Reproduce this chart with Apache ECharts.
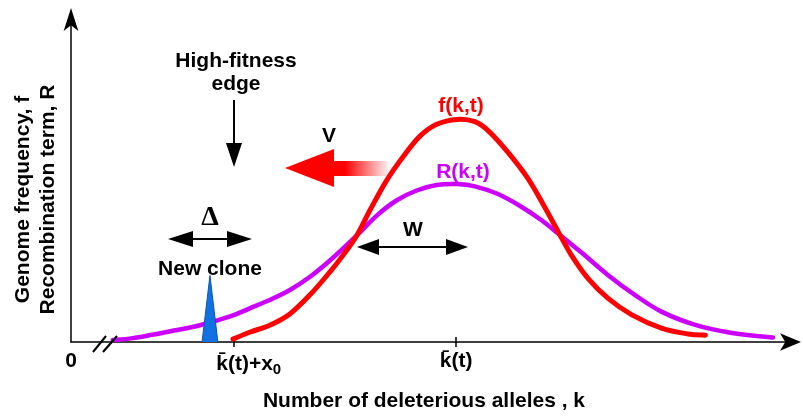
<!DOCTYPE html>
<html>
<head>
<meta charset="utf-8">
<script src="https://cdn.jsdelivr.net/npm/echarts@6/dist/echarts.min.js"></script>
<style>
html,body{margin:0;padding:0;background:#fff}
#chart{width:803px;height:417px}
</style>
</head>
<body>
<div id="chart"></div>
<script>
// f(k,t) - genome frequency, sampled off the figure
const fK = [22.5, 24.9, 27.6, 30.4, 33.2, 36.0, 37.8, 39.7, 41.5, 43.8, 46.2, 48.5, 50.8, 53.6, 56.1, 58.0, 60.7, 63.5, 65.8, 67.7, 69.5, 71.8, 74.6, 77.9, 82.0, 85.7, 88.1];
const fVal = [0.9, 3.1, 5.2, 8.7, 14.6, 21.8, 26.9, 33.0, 40.7, 49.9, 57.6, 63.8, 67.4, 68.9, 68.2, 65.3, 58.7, 50.5, 41.7, 34.0, 26.9, 19.7, 13.5, 8.4, 4.3, 2.5, 2.1];
// R(k,t) - recombination term
const rK = [5.8, 8.6, 13.3, 17.9, 22.1, 24.9, 27.6, 30.4, 33.2, 36.0, 39.7, 42.5, 45.2, 48.0, 50.8, 53.6, 56.1, 59.3, 62.6, 65.4, 67.7, 70.9, 74.6, 78.3, 82.0, 86.7, 91.8, 97.5];
const rVal = [0.6, 1.2, 3.1, 5.2, 7.9, 10.5, 13.0, 16.1, 20.2, 25.3, 33.0, 39.2, 43.8, 46.9, 48.6, 48.9, 48.2, 45.8, 41.8, 37.6, 33.5, 27.7, 20.7, 14.6, 9.4, 5.3, 2.8, 1.4];
// new clone spike
const cloneK = [18.2, 19.3, 20.4];
const cloneVal = [0, 20.6, 0];
// axis marks
const tickK = [22.6, 53.5];
const labelK = [0, 22.6, 53.5];
const labelText = ['{a|0}', '{sh|k\u0304(t)+x}{sub|0}', '{a|k\u0304(t)}'];

const FONT = '"Liberation Sans", Arial, sans-serif';

function pairs(xs, ys) {
    return xs.map(function (x, i) { return [x, ys[i]]; });
}

// catmull-rom through the projected points
function smoothPath(p) {
    let d = 'M' + p[0][0] + ' ' + p[0][1];
    const n = p.length;
    for (let i = 0; i < n - 1; i++) {
        const p0 = p[Math.max(i - 1, 0)], p1 = p[i], p2 = p[i + 1], p3 = p[Math.min(i + 2, n - 1)];
        const c1x = p1[0] + (p2[0] - p0[0]) / 6, c1y = p1[1] + (p2[1] - p0[1]) / 6;
        const c2x = p2[0] - (p3[0] - p1[0]) / 6, c2y = p2[1] - (p3[1] - p1[1]) / 6;
        d += ' C' + c1x + ' ' + c1y + ' ' + c2x + ' ' + c2y + ' ' + p2[0] + ' ' + p2[1];
    }
    return d;
}

function curveSeries(name, ks, vals, color, width) {
    return {
        name: name, type: 'custom', xAxisIndex: 0,
        data: [[ks[0], vals[0]]],
        clip: false,
        renderItem: function (params, api) {
            const pts = ks.map(function (k, i) { return api.coord([k, vals[i]]); });
            return {
                type: 'path',
                shape: { pathData: smoothPath(pts) },
                style: { stroke: color, lineWidth: width, fill: null, lineCap: 'round' }
            };
        }
    };
}

function txt(x, y, text, size, color, family, weight) {
    return {
        type: 'text', x: x, y: y, z: 10,
        style: {
            text: text, fill: color || '#000', fontSize: size,
            fontWeight: weight || 'bold', fontFamily: family || FONT,
            align: 'center', verticalAlign: 'middle'
        }
    };
}
function seg(x1, y1, x2, y2) {
    return { type: 'line', z: 10, shape: { x1: x1, y1: y1, x2: x2, y2: y2 }, style: { stroke: '#000', lineWidth: 2 } };
}
function head(pts, color) {
    return { type: 'polygon', z: 10, shape: { points: pts }, style: { fill: color || '#000' } };
}

let myChart = echarts.init(document.getElementById('chart'));

let option = {
    animation: false,
    grid: { left: 71, right: 12, top: 19, bottom: 73 },
    xAxis: [{
        type: 'value', min: 0, max: 100,
        name: 'Number of deleterious alleles , k',
        nameLocation: 'middle', nameGap: 49,
        nameTextStyle: { fontSize: 21, fontWeight: 'bold', fontFamily: FONT, color: '#000', padding: [0, 14, 0, 0] },
        axisLine: { symbol: ['none', 'arrow'], symbolSize: [13, 21], symbolOffset: [0, 10], lineStyle: { color: '#000', width: 1.5 } },
        axisTick: { show: true, customValues: tickK, length: 5, lineStyle: { color: '#000', width: 1.5 } },
        axisLabel: {
            customValues: labelK, margin: 9, color: '#000',
            formatter: function (v) {
                for (let i = 0; i < labelK.length; i++) {
                    if (Math.abs(labelK[i] - v) < 0.01) return labelText[i];
                }
                return '';
            },
            rich: {
                a: { fontSize: 21, fontWeight: 'bold', fontFamily: FONT, color: '#000' },
                sh: { fontSize: 21, fontWeight: 'bold', fontFamily: FONT, color: '#000', padding: [0, 0, 0, 30] },
                sub: { fontSize: 15, fontWeight: 'bold', fontFamily: FONT, color: '#000', padding: [11, 0, 0, 0] }
            }
        },
        splitLine: { show: false }
    }, {
        type: 'value', min: 0, max: 100, position: 'bottom',
        axisLine: { show: false },
        axisTick: { show: true, inside: true, customValues: tickK, length: 5, lineStyle: { color: '#000', width: 1.5 } },
        axisLabel: { show: false },
        splitLine: { show: false }
    }],
    yAxis: {
        type: 'value', min: 0, max: 100,
        name: 'Genome frequency, f\nRecombination term, R',
        nameLocation: 'middle', nameGap: 10,
        nameTextStyle: { fontSize: 21, fontWeight: 'bold', fontFamily: FONT, color: '#000', lineHeight: 25, padding: [0, 38, 0, 0] },
        axisLine: { symbol: ['none', 'arrow'], symbolSize: [11, 23], symbolOffset: [0, 11], lineStyle: { color: '#000', width: 1.5 } },
        axisTick: { show: false },
        axisLabel: { show: false },
        splitLine: { show: false }
    },
    series: [{
        name: 'New clone', type: 'line', xAxisIndex: 0,
        data: pairs(cloneK, cloneVal),
        symbol: 'none',
        lineStyle: { width: 1, color: '#0a55b8' },
        areaStyle: { color: '#1271e2', opacity: 1 }
    },
    curveSeries('R(k,t)', rK, rVal, '#cc00ff', 4.5),
    curveSeries('f(k,t)', fK, fVal, '#ff0000', 5)
    ],
    graphic: [
        // axis break
        seg(93, 352, 106, 336),
        seg(103, 352, 117, 336),
        // high-fitness edge
        txt(236, 61, 'High-fitness', 21),
        txt(236, 84, 'edge', 21),
        seg(234, 100, 234, 146),
        head([[226, 143], [242, 143], [234, 167]]),
        // velocity arrow
        txt(329, 136, 'V', 21),
        head([[285, 168], [334, 149], [334, 187]], '#ff0000'),
        {
            type: 'rect', z: 9, shape: { x: 333, y: 161, width: 58, height: 15 },
            style: {
                fill: new echarts.graphic.LinearGradient(0, 0, 1, 0, [
                    { offset: 0, color: '#ff0000' },
                    { offset: 0.2, color: '#ff0000' },
                    { offset: 1, color: 'rgba(255,0,0,0)' }
                ])
            }
        },
        // delta
        txt(210, 218, '\u0394', 28, '#000', '"Liberation Serif", serif', 'bold'),
        seg(188, 239, 232, 239),
        head([[168, 239], [193, 231], [193, 247]]),
        head([[252, 239], [227, 231], [227, 247]]),
        txt(210, 269, 'New clone', 21),
        // width
        txt(413, 230, 'W', 21),
        seg(375, 247, 450, 247),
        head([[357, 247], [379, 239], [379, 255]]),
        head([[468, 247], [446, 239], [446, 255]]),
        // curve labels
        txt(461, 106, 'f(k,t)', 21, '#ff0000'),
        txt(463, 172, 'R(k,t)', 21, '#cc00ff')
    ]
};
myChart.setOption(option);
</script>
</body>
</html>
